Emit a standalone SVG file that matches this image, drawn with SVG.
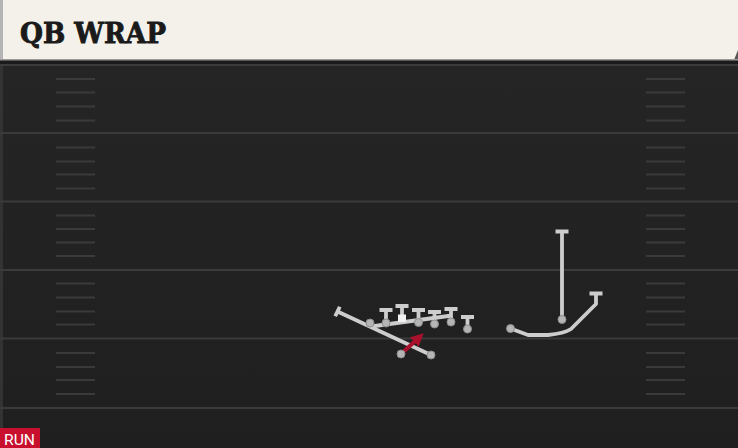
<svg xmlns="http://www.w3.org/2000/svg" width="738" height="448" viewBox="0 0 738 448">
  <defs>
    <linearGradient id="fieldGrad" x1="0" y1="0" x2="0" y2="1">
      <stop offset="0" stop-color="#262626"/>
      <stop offset="1" stop-color="#1f1f1f"/>
    </linearGradient>
    <marker id="redHead" viewBox="0 0 10 10" refX="4" refY="5" markerWidth="3.2" markerHeight="3.2" orient="auto" markerUnits="strokeWidth">
      <path d="M0,0 L10,5 L0,10 Z" fill="#a8102c"/>
    </marker>
  </defs>
  <style>
    .yard { stroke: #3b3b3b; stroke-width: 2; }
    .hash { stroke: #3a3a3a; stroke-width: 2; }
    .route { fill: none; stroke: #cdcdcd; stroke-width: 3.8; stroke-linecap: butt; stroke-linejoin: round; }
    .dot { fill: #b5b5b5; stroke: #8c8c8c; stroke-width: 1; }
    .run { fill: none; stroke: #a8102c; stroke-width: 4; }
  </style>

  <!-- field -->
  <rect x="0" y="0" width="738" height="448" fill="url(#fieldGrad)"/>
  <rect x="0" y="59" width="3" height="389" fill="#333"/>
  <rect x="0" y="59" width="738" height="5" fill="#1b1b1b"/>
  <g id="yardlines">
    <line class="yard" x1="0" y1="65" x2="738" y2="65"/>
    <line class="yard" x1="0" y1="133" x2="738" y2="133"/>
    <line class="yard" x1="0" y1="201.5" x2="738" y2="201.5"/>
    <line class="yard" x1="0" y1="270" x2="738" y2="270"/>
    <line class="yard" x1="0" y1="338.5" x2="738" y2="338.5"/>
    <line class="yard" x1="0" y1="408" x2="738" y2="408"/>
  </g>
  <g id="hashes-left">
    <line class="hash" x1="56" y1="79" x2="95" y2="79"/>
    <line class="hash" x1="56" y1="92.5" x2="95" y2="92.5"/>
    <line class="hash" x1="56" y1="106.5" x2="95" y2="106.5"/>
    <line class="hash" x1="56" y1="120.5" x2="95" y2="120.5"/>
    <line class="hash" x1="56" y1="147.5" x2="95" y2="147.5"/>
    <line class="hash" x1="56" y1="161.5" x2="95" y2="161.5"/>
    <line class="hash" x1="56" y1="174.5" x2="95" y2="174.5"/>
    <line class="hash" x1="56" y1="188.5" x2="95" y2="188.5"/>
    <line class="hash" x1="56" y1="215.5" x2="95" y2="215.5"/>
    <line class="hash" x1="56" y1="229" x2="95" y2="229"/>
    <line class="hash" x1="56" y1="242.5" x2="95" y2="242.5"/>
    <line class="hash" x1="56" y1="256" x2="95" y2="256"/>
    <line class="hash" x1="56" y1="283.5" x2="95" y2="283.5"/>
    <line class="hash" x1="56" y1="297.5" x2="95" y2="297.5"/>
    <line class="hash" x1="56" y1="311.5" x2="95" y2="311.5"/>
    <line class="hash" x1="56" y1="324.5" x2="95" y2="324.5"/>
    <line class="hash" x1="56" y1="353" x2="95" y2="353"/>
    <line class="hash" x1="56" y1="367" x2="95" y2="367"/>
    <line class="hash" x1="56" y1="380" x2="95" y2="380"/>
    <line class="hash" x1="56" y1="394" x2="95" y2="394"/>
  </g>
  <g id="hashes-right">
    <line class="hash" x1="646" y1="79" x2="685" y2="79"/>
    <line class="hash" x1="646" y1="92.5" x2="685" y2="92.5"/>
    <line class="hash" x1="646" y1="106.5" x2="685" y2="106.5"/>
    <line class="hash" x1="646" y1="120.5" x2="685" y2="120.5"/>
    <line class="hash" x1="646" y1="147.5" x2="685" y2="147.5"/>
    <line class="hash" x1="646" y1="161.5" x2="685" y2="161.5"/>
    <line class="hash" x1="646" y1="174.5" x2="685" y2="174.5"/>
    <line class="hash" x1="646" y1="188.5" x2="685" y2="188.5"/>
    <line class="hash" x1="646" y1="215.5" x2="685" y2="215.5"/>
    <line class="hash" x1="646" y1="229" x2="685" y2="229"/>
    <line class="hash" x1="646" y1="242.5" x2="685" y2="242.5"/>
    <line class="hash" x1="646" y1="256" x2="685" y2="256"/>
    <line class="hash" x1="646" y1="283.5" x2="685" y2="283.5"/>
    <line class="hash" x1="646" y1="297.5" x2="685" y2="297.5"/>
    <line class="hash" x1="646" y1="311.5" x2="685" y2="311.5"/>
    <line class="hash" x1="646" y1="324.5" x2="685" y2="324.5"/>
    <line class="hash" x1="646" y1="353" x2="685" y2="353"/>
    <line class="hash" x1="646" y1="367" x2="685" y2="367"/>
    <line class="hash" x1="646" y1="380" x2="685" y2="380"/>
    <line class="hash" x1="646" y1="394" x2="685" y2="394"/>
  </g>

  <!-- header -->
  <g id="header">
    <rect x="0" y="0" width="738" height="60" fill="#f4f1ea"/>
    <rect x="0" y="0" width="3" height="60" fill="#b4b4b4"/>
    <polygon points="734,60 738,50 738,60" fill="#555"/>
    <rect x="0" y="59" width="738" height="1.5" fill="#9a9a9a"/>
    <text x="20" y="43" font-family="'DejaVu Serif', 'Liberation Serif', serif" font-weight="bold" font-size="28" fill="#1a1a1a" stroke="#1a1a1a" stroke-width="0.9" textLength="146" lengthAdjust="spacingAndGlyphs">QB WRAP</text>
  </g>

  <!-- connectors / routes -->
  <g id="connectors">
    <!-- long diagonal block -->
    <line class="route" x1="431" y1="355" x2="337.5" y2="311.5"/>
    <line class="route" x1="335.2" y1="316.3" x2="339.8" y2="306.7"/>
    <!-- line through line of scrimmage -->
    <line class="route" x1="371" y1="326.5" x2="452" y2="315.5"/>
    <!-- line blocks -->
    <path class="route" d="M386,323 V310 M379.5,310 H392.5"/>
    <path class="route" d="M402,318 V306 M395.5,306 H408.5"/>
    <path class="route" d="M418.5,322.5 V310 M412,310 H425"/>
    <path class="route" d="M434.5,324 V312 M428,312 H441"/>
    <path class="route" d="M451,322 V309 M444.5,309 H457.5"/>
    <path class="route" d="M467.5,329 V317 M461,317 H474"/>
    <!-- receiver routes -->
    <path class="route" d="M562,319 V231.5 M555.5,231.5 H568.5"/>
    <path class="route" d="M510.5,328.5 L528,335 L548,335 Q564,333.5 571,329 L596,304 V293.5 M589.5,293.5 H602.5"/>
    <!-- run arrow -->
    <line class="run" x1="401" y1="354" x2="418" y2="338.5" marker-end="url(#redHead)"/>
  </g>

  <!-- players -->
  <g id="players">
    <circle id="p-a" class="dot" cx="370" cy="323" r="4"/>
    <circle id="p-lt" class="dot" cx="386" cy="323" r="4"/>
    <rect id="p-c" x="398" y="314.5" width="8" height="7.5" fill="#f2f2f2"/>
    <circle id="p-rg" class="dot" cx="418.5" cy="322.5" r="4"/>
    <circle id="p-rt" class="dot" cx="434.5" cy="324" r="4"/>
    <circle id="p-te1" class="dot" cx="451" cy="322" r="4"/>
    <circle id="p-te2" class="dot" cx="467.5" cy="329" r="4"/>
    <circle id="p-rb" class="dot" cx="401" cy="354" r="4"/>
    <circle id="p-fb" class="dot" cx="431" cy="355" r="4"/>
    <circle id="p-wr1" class="dot" cx="562" cy="319.5" r="4"/>
    <circle id="p-wr2" class="dot" cx="510.5" cy="328.5" r="4"/>
  </g>

  <!-- badge -->
  <g id="badge">
    <rect x="0" y="428" width="40" height="20" fill="#c8102e"/>
    <text x="4" y="444.5" font-family="Roboto, 'Liberation Sans', sans-serif" font-size="15" fill="#ffffff" textLength="31" lengthAdjust="spacingAndGlyphs">RUN</text>
  </g>
</svg>
